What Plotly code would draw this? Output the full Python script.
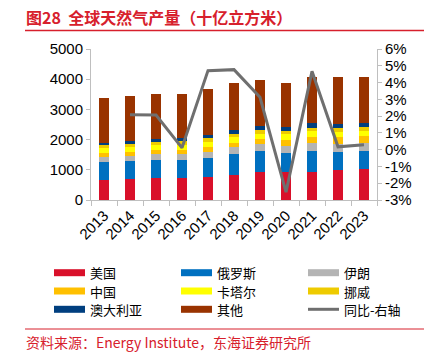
import plotly.graph_objects as go

years = ["2013", "2014", "2015", "2016", "2017", "2018", "2019", "2020", "2021", "2022", "2023"]
usa = [657, 706, 741, 729, 746, 840, 930, 916, 934, 979, 1035]
russia = [614, 591, 584, 589, 636, 669, 679, 638, 702, 618, 586]
iran = [155, 173, 183, 199, 214, 232, 241, 249, 257, 260, 252]
china = [122, 131, 136, 137, 149, 162, 176, 194, 209, 222, 234]
qatar = [167, 169, 171, 172, 170, 169, 172, 175, 177, 178, 181]
norway = [108, 108, 117, 116, 124, 121, 114, 112, 114, 123, 117]
australia = [56, 62, 74, 98, 113, 130, 153, 145, 147, 153, 151]
other = [1501, 1495, 1499, 1460, 1528, 1537, 1505, 1451, 1530, 1527, 1504]
yoy = [None, 2.08, 2.06, 0.11, 4.71, 4.77, 3.12, -2.53, 4.67, 0.17, 0.29]
left_ticks = [0, 1000, 2000, 3000, 4000, 5000]
right_ticks = [-3, -2, -1, 0, 1, 2, 3, 4, 5, 6]

series = [
    ("美国", usa, "#D9102A"),
    ("俄罗斯", russia, "#0070C0"),
    ("伊朗", iran, "#B4B4B4"),
    ("中国", china, "#FFC000"),
    ("卡塔尔", qatar, "#FFFF00"),
    ("挪威", norway, "#EECB00"),
    ("澳大利亚", australia, "#003F7F"),
    ("其他", other, "#993300"),
]
line_name = "同比-右轴"
line_color = "#6F6F6F"

W, H = 424, 358
L, R, T, B = 91, 377, 49, 200
FONT = "Liberation Sans, Arial, Noto Sans CJK SC, sans-serif"
CJK = "Noto Sans CJK SC, sans-serif"
RED = "#D7202C"

fig = go.Figure()
for name, vals, col in series:
    fig.add_trace(go.Bar(x=years, y=vals, name=name, marker=dict(color=col, line=dict(width=0)),
                         width=0.35, showlegend=False))
fig.add_trace(go.Scatter(x=years, y=yoy, name=line_name, yaxis="y2", mode="lines",
                         line=dict(color=line_color, width=3), showlegend=False))

def px(x):
    return (x - L) / (R - L)

def py(y):
    return (B - y) / (B - T)

shapes = []
annotations = []
shapes.append(dict(type="line", xref="paper", yref="paper", x0=px(25), x1=px(424), y0=py(30.5), y1=py(30.5),
                   line=dict(color=RED, width=1.5)))
shapes.append(dict(type="line", xref="paper", yref="paper", x0=px(25), x1=px(424), y0=py(329), y1=py(329),
                   line=dict(color=RED, width=1)))
annotations.append(dict(text="<b>图28\u00a0\u00a0全球天然气产量（十亿立方米）</b>", xref="paper", yref="paper",
                        x=px(24), y=py(17), xanchor="left", yanchor="middle", showarrow=False,
                        font=dict(family=CJK, size=16, color=RED)))
annotations.append(dict(text="资料来源：Energy Institute，东海证券研究所", xref="paper", yref="paper",
                        x=px(24), y=py(342), xanchor="left", yanchor="middle", showarrow=False,
                        font=dict(family=CJK, size=14, color=RED)))

legend_items = [(n, c, "bar") for n, _, c in series] + [(line_name, line_color, "line")]
col_x = [54, 181, 308]
row_y = [272.7, 291, 309.3]
for i, (name, col, kind) in enumerate(legend_items):
    r, c = divmod(i, 3)
    x0 = col_x[c]
    yc = row_y[r]
    hh = 3.5 if kind == "bar" else 1.5
    shapes.append(dict(type="rect", xref="paper", yref="paper", x0=px(x0), x1=px(x0 + 31),
                       y0=py(yc + hh), y1=py(yc - hh), fillcolor=col, line=dict(width=0)))
    annotations.append(dict(text=name, xref="paper", yref="paper", x=px(x0 + 34), y=py(yc),
                            xanchor="left", yanchor="middle", showarrow=False,
                            font=dict(family=CJK, size=13, color="#000000")))

fig.update_layout(
    width=W, height=H,
    margin=dict(l=L, r=W - R, t=T, b=H - B, pad=0),
    barmode="stack",
    plot_bgcolor="white", paper_bgcolor="white",
    font=dict(family=FONT, size=15, color="#000000"),
    shapes=shapes, annotations=annotations,
    xaxis=dict(type="category", tickangle=-45, showline=True, linecolor="#BFBFBF", linewidth=1,
               ticks="outside", tickson="boundaries", ticklen=5, tickcolor="#BFBFBF",
               tickfont=dict(size=15), showgrid=False, range=[-0.5, 10.5], automargin=False),
    yaxis=dict(range=[0, 5000], tickmode="array", tickvals=left_ticks,
               ticktext=[str(v) for v in left_ticks], showline=True, linecolor="#BFBFBF", linewidth=1,
               ticks="outside", ticklen=4, tickcolor="#BFBFBF", showgrid=False, zeroline=False,
               tickfont=dict(size=15), automargin=False),
    yaxis2=dict(range=[-3, 6], tickmode="array", tickvals=right_ticks,
                ticktext=[f"{v}%" for v in right_ticks], overlaying="y", side="right",
                showline=True, linecolor="#BFBFBF", linewidth=1, ticks="outside", ticklen=4,
                tickcolor="#BFBFBF", showgrid=False, zeroline=False, tickfont=dict(size=15),
                automargin=False),
)

fig.write_html("out.html", config={"displayModeBar": False},
               post_script="document.body.style.margin='0px';")
